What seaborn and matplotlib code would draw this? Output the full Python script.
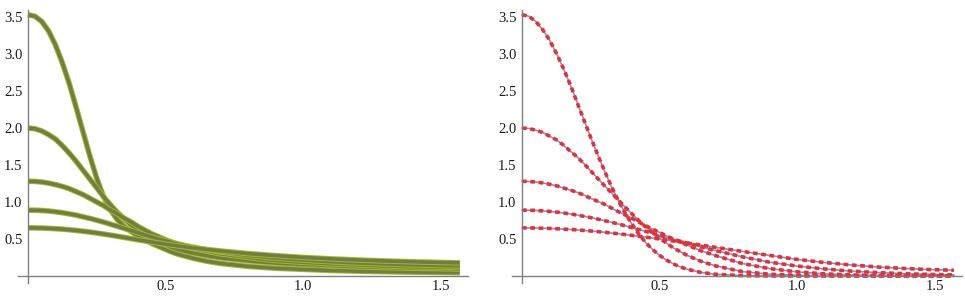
import numpy as np
import pandas as pd
import matplotlib
matplotlib.use("Agg")
import matplotlib.pyplot as plt
import matplotlib.patheffects as pe
from matplotlib.ticker import FixedLocator
import seaborn as sns

# ---------------- data ----------------
x_grid = [0.0, 0.025, 0.05, 0.075, 0.1, 0.125, 0.15, 0.175, 0.2, 0.225, 0.25, 0.275,
          0.3, 0.325, 0.35, 0.375, 0.4, 0.425, 0.45, 0.475, 0.5, 0.525, 0.55, 0.575,
          0.6, 0.65, 0.7, 0.8, 0.9, 1.0, 1.1, 1.2, 1.3, 1.4, 1.5, 1.57]

left_a = [3.53, 3.51, 3.44, 3.31, 3.12, 2.88, 2.60, 2.28, 1.95, 1.62, 1.32, 1.07,
          0.89, 0.76, 0.67, 0.60, 0.54, 0.49, 0.44, 0.40, 0.36, 0.32, 0.29, 0.265,
          0.24, 0.20, 0.17, 0.13, 0.105, 0.09, 0.075, 0.065, 0.058, 0.052, 0.048, 0.045]
left_b = [2.00, 1.99, 1.96, 1.91, 1.85, 1.76, 1.66, 1.55, 1.43, 1.31, 1.19, 1.07,
          0.96, 0.86, 0.77, 0.69, 0.62, 0.56, 0.50, 0.46, 0.42, 0.385, 0.355, 0.33,
          0.31, 0.275, 0.245, 0.205, 0.175, 0.155, 0.14, 0.125, 0.115, 0.105, 0.10, 0.095]
left_c = [1.28, 1.278, 1.27, 1.255, 1.235, 1.21, 1.18, 1.14, 1.10, 1.05, 1.00, 0.95,
          0.89, 0.84, 0.78, 0.73, 0.67, 0.62, 0.57, 0.53, 0.49, 0.455, 0.425, 0.40,
          0.375, 0.335, 0.30, 0.25, 0.21, 0.185, 0.165, 0.15, 0.135, 0.125, 0.12, 0.115]
left_d = [0.89, 0.889, 0.885, 0.878, 0.868, 0.855, 0.84, 0.822, 0.80, 0.778, 0.754, 0.728,
          0.70, 0.672, 0.643, 0.614, 0.585, 0.555, 0.527, 0.50, 0.475, 0.45, 0.428, 0.408,
          0.39, 0.355, 0.325, 0.278, 0.242, 0.215, 0.193, 0.176, 0.162, 0.151, 0.142, 0.137]
left_e = [0.65, 0.65, 0.648, 0.644, 0.639, 0.633, 0.625, 0.616, 0.605, 0.594, 0.581, 0.567,
          0.552, 0.537, 0.521, 0.505, 0.489, 0.474, 0.459, 0.444, 0.43, 0.417, 0.404, 0.392,
          0.38, 0.358, 0.338, 0.303, 0.275, 0.251, 0.232, 0.216, 0.203, 0.192, 0.183, 0.178]

right_a = [3.53, 3.51, 3.44, 3.33, 3.19, 3.01, 2.81, 2.59, 2.35, 2.11, 1.87, 1.64,
           1.42, 1.21, 1.02, 0.85, 0.70, 0.565, 0.45, 0.358, 0.28, 0.216, 0.164, 0.124,
           0.092, 0.049, 0.024, 0.005, 0.0, 0.0, 0.0, 0.0, 0.0, 0.0, 0.0, 0.0]
right_b = [2.00, 1.993, 1.97, 1.94, 1.89, 1.84, 1.77, 1.69, 1.61, 1.52, 1.42, 1.32,
           1.22, 1.125, 1.03, 0.93, 0.84, 0.748, 0.66, 0.585, 0.51, 0.446, 0.38, 0.33,
           0.28, 0.20, 0.14, 0.06, 0.024, 0.009, 0.003, 0.0, 0.0, 0.0, 0.0, 0.0]
right_c = [1.28, 1.2775, 1.27, 1.258, 1.24, 1.219, 1.19, 1.163, 1.13, 1.093, 1.05, 1.01,
           0.97, 0.92, 0.87, 0.825, 0.78, 0.728, 0.68, 0.632, 0.59, 0.541, 0.50, 0.456,
           0.42, 0.342, 0.28, 0.17, 0.10, 0.056, 0.029, 0.014, 0.006, 0.003, 0.001, 0.0]
right_d = [0.89, 0.889, 0.886, 0.880, 0.873, 0.864, 0.852, 0.839, 0.824, 0.807, 0.789, 0.769,
           0.748, 0.726, 0.703, 0.679, 0.654, 0.629, 0.603, 0.577, 0.550, 0.524, 0.497, 0.471,
           0.446, 0.395, 0.347, 0.260, 0.187, 0.135, 0.095, 0.065, 0.045, 0.030, 0.020, 0.015]
right_e = [0.65, 0.65, 0.648, 0.646, 0.643, 0.639, 0.634, 0.629, 0.623, 0.616, 0.608, 0.600,
           0.591, 0.581, 0.571, 0.560, 0.549, 0.537, 0.525, 0.513, 0.500, 0.487, 0.473, 0.460,
           0.446, 0.418, 0.389, 0.333, 0.278, 0.225, 0.182, 0.148, 0.120, 0.100, 0.085, 0.078]

x_ticks = [0.5, 1.0, 1.5]
x_tick_labels = ["0.5", "1.0", "1.5"]
y_ticks = [0.5, 1.0, 1.5, 2.0, 2.5, 3.0, 3.5]
y_tick_labels = ["0.5", "1.0", "1.5", "2.0", "2.5", "3.0", "3.5"]

left_curves = {"a": left_a, "b": left_b, "c": left_c, "d": left_d, "e": left_e}
right_curves = {"a": right_a, "b": right_b, "c": right_c, "d": right_d, "e": right_e}


def long_frame(curves):
    rows = []
    for name, vals in curves.items():
        for xv, yv in zip(x_grid, vals):
            rows.append({"x": xv, "y": yv, "curve": name})
    return pd.DataFrame(rows)


df_left = long_frame(left_curves)
df_right = long_frame(right_curves)

# ---------------- style ----------------
sns.set_theme(style="white")
plt.rcParams["font.family"] = ["Liberation Serif", "DejaVu Serif"]

W, H = 965, 298
fig = plt.figure(figsize=(W / 100, H / 100), dpi=100)

x0_px, y0_px = 28, 276          # data origin position (pixels)
px_per_x, px_per_y = 275, 74
xmin, xmax = -0.035, 1.60
ymin, ymax = -0.10, 3.60


def make_ax(origin_px):
    left = (origin_px + xmin * px_per_x) / W
    width = (xmax - xmin) * px_per_x / W
    bottom = 1 - (y0_px - ymin * px_per_y) / H
    height = (ymax - ymin) * px_per_y / H
    ax = fig.add_axes([left, bottom, width, height])
    return ax


def style_ax(ax):
    ax.set_xlim(xmin, xmax)
    ax.set_ylim(ymin, ymax)
    ax.set_facecolor("none")
    for s in ["top", "right"]:
        ax.spines[s].set_visible(False)
    for s in ["left", "bottom"]:
        ax.spines[s].set_position(("data", 0))
        ax.spines[s].set_color("#808080")
        ax.spines[s].set_linewidth(1.0)
    ax.xaxis.set_major_locator(FixedLocator(x_ticks))
    ax.set_xticklabels(x_tick_labels)
    ax.yaxis.set_major_locator(FixedLocator(y_ticks))
    ax.set_yticklabels(y_tick_labels)
    ax.xaxis.set_minor_locator(FixedLocator([v / 10 for v in range(1, 16) if v % 5]))
    ax.yaxis.set_minor_locator(FixedLocator([v / 10 for v in range(1, 36) if v % 5]))
    ax.tick_params(axis="both", which="major", direction="in", length=3.8, width=0.8,
                   color="#333333", labelsize=10.5, labelcolor="#1a1a1a")
    ax.tick_params(axis="both", which="minor", direction="in", length=2.2, width=0.6,
                   color="#333333")
    ax.tick_params(axis="y", which="major", pad=4)
    ax.tick_params(axis="x", which="major", pad=3)
    ax.set_xlabel("")
    ax.set_ylabel("")
    ax.grid(False)


# Left panel: thick olive curves with a yellow-green halo
axL = make_ax(x0_px)
sns.lineplot(data=df_left, x="x", y="y", units="curve", estimator=None, sort=False,
             color="#717d48", linewidth=2.6, ax=axL, legend=False)
for ln in axL.lines:
    ln.set_solid_capstyle("butt")
    ln.set_solid_joinstyle("round")
    ln.set_path_effects([pe.Stroke(linewidth=4.0, foreground="#a6ba22"), pe.Normal()])
style_ax(axL)

# Right panel: thin blue curves with red dotted overlay
axR = make_ax(522)
sns.lineplot(data=df_right, x="x", y="y", units="curve", estimator=None, sort=False,
             color="#8a8ad8", linewidth=1.2, ax=axR, legend=False)
n_blue = len(axR.lines)
sns.lineplot(data=df_right, x="x", y="y", units="curve", estimator=None, sort=False,
             color="#dd3535", linewidth=2.6, ax=axR, legend=False)
for ln in axR.lines[n_blue:]:
    ln.set_dashes((1.3, 1.0))
    ln.set_dash_capstyle("butt")
style_ax(axR)

fig.savefig("out.png", dpi=100)
